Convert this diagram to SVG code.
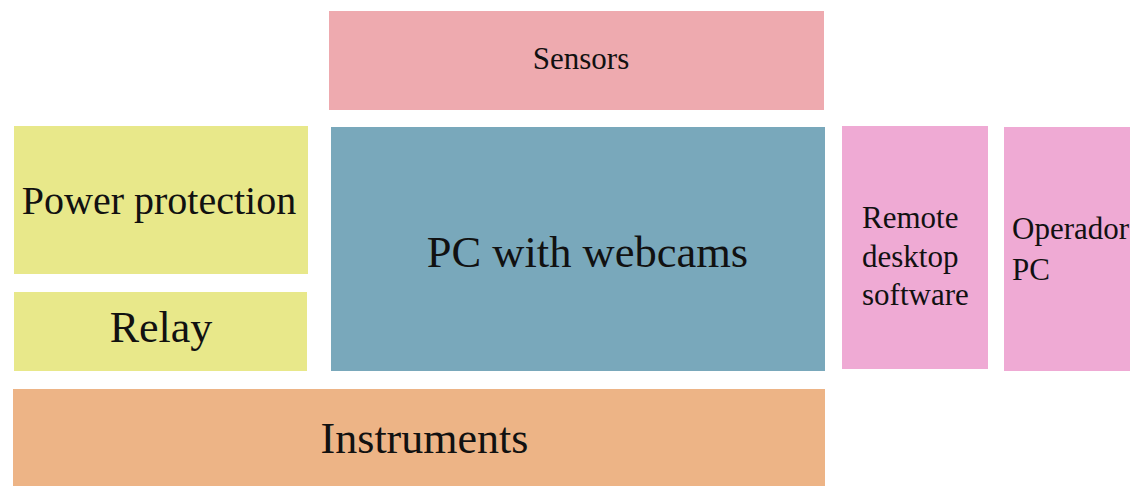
<svg xmlns="http://www.w3.org/2000/svg" width="1130" height="486" viewBox="0 0 1130 486">
<style>
  text { font-family: "Liberation Serif", "Times New Roman", serif; fill: #111111; }
  .c { text-anchor: middle; }
  .s { font-size: 31px; }
  .yellow { fill: #E8E88A; }
  .pink { fill: #EFAAD4; }
</style>
<rect width="1130" height="486" fill="#ffffff"/>
<g id="sensors">
  <rect x="329" y="11" width="495" height="99" fill="#EEAAAF"/>
  <text class="c s" x="581" y="69">Sensors</text>
</g>
<g id="power-protection">
  <rect class="yellow" x="14" y="126" width="294" height="148"/>
  <text class="c" x="159" y="214" font-size="40">Power protection</text>
</g>
<g id="relay">
  <rect class="yellow" x="14" y="292" width="293" height="79"/>
  <text class="c" x="161" y="342" font-size="44">Relay</text>
</g>
<g id="pc-webcams">
  <rect x="331" y="127" width="494" height="244" fill="#79A8BB"/>
  <text class="c" x="587.5" y="267" font-size="44.5">PC with webcams</text>
</g>
<g id="remote-desktop">
  <rect class="pink" x="842" y="126" width="146" height="243"/>
  <text class="s" x="862" y="228">Remote</text>
  <text class="s" x="862" y="267">desktop</text>
  <text class="s" x="862" y="305">software</text>
</g>
<g id="operador-pc">
  <rect class="pink" x="1004" y="127" width="130" height="244"/>
  <text class="s" x="1012" y="239">Operador</text>
  <text class="s" x="1012" y="280">PC</text>
</g>
<g id="instruments">
  <rect x="13" y="389" width="812" height="100" fill="#EDB486"/>
  <text class="c" x="424.5" y="453" font-size="44">Instruments</text>
</g>
<g id="connectors"></g>
</svg>
